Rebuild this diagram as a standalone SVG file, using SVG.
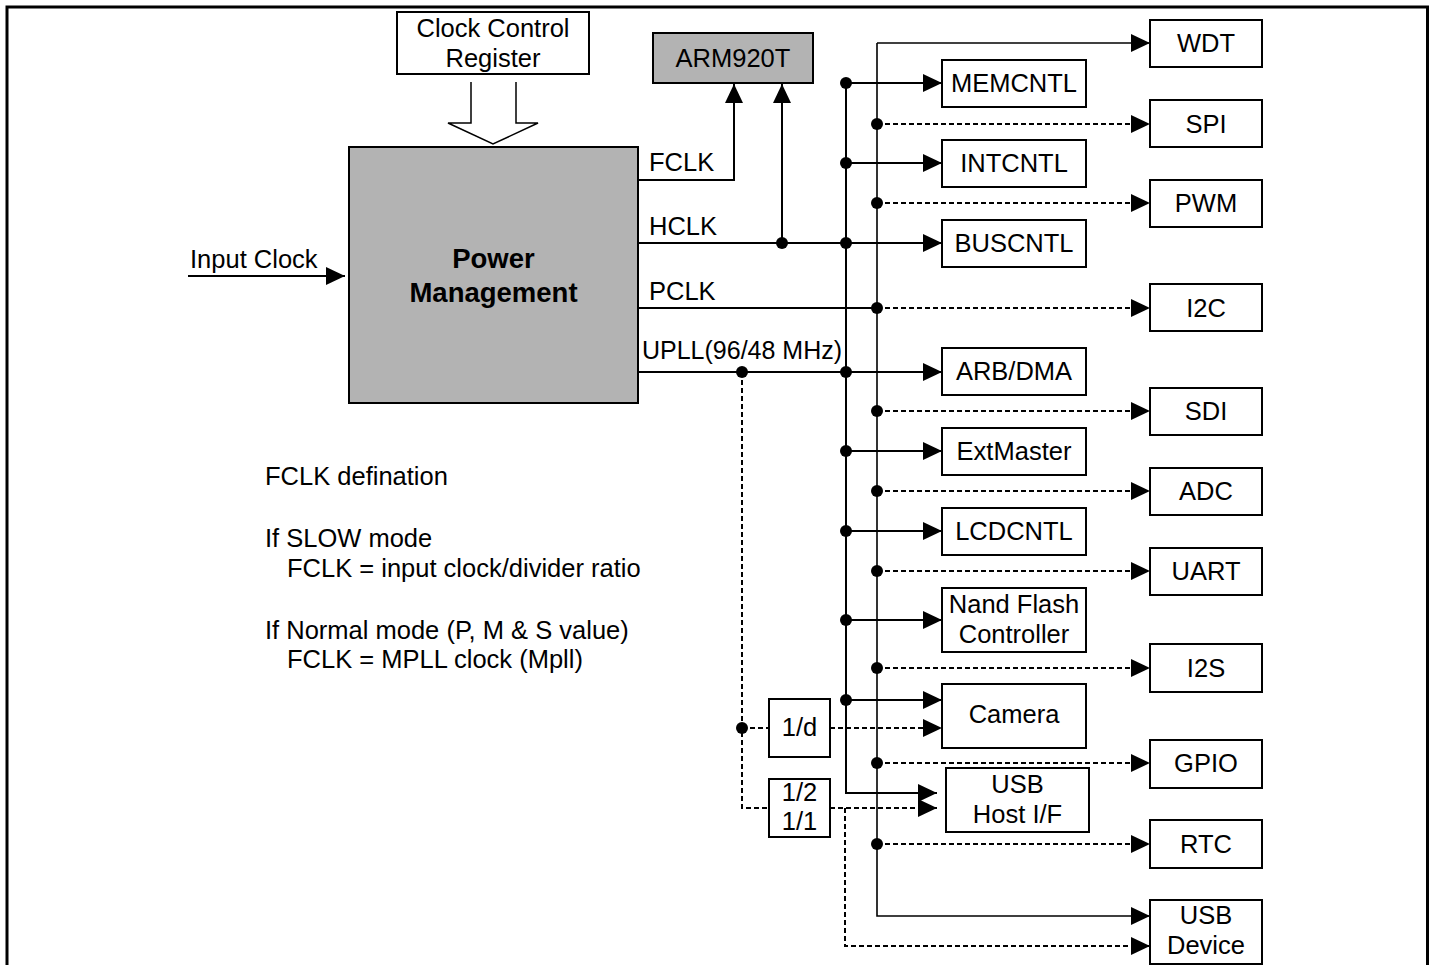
<svg xmlns="http://www.w3.org/2000/svg" width="1433" height="965" viewBox="0 0 1433 965">
<defs>
<style>
text{font-family:"Liberation Sans",Arial,sans-serif;font-size:25.5px;fill:#000}
.c{text-anchor:middle}
.b{font-weight:bold;font-size:27.5px}
.box{fill:#fff;stroke:#000;stroke-width:2}
.g{fill:#b3b3b3;stroke:#000;stroke-width:2}
.s{fill:none;stroke:#000;stroke-width:2}
.t{fill:none;stroke:#000;stroke-width:1.6}
.d{fill:none;stroke:#000;stroke-width:2;stroke-dasharray:5 3}
.a{marker-end:url(#ah)}
.dot{fill:#000}
</style>
<marker id="ah" markerUnits="userSpaceOnUse" markerWidth="20" markerHeight="18" refX="19" refY="9" orient="auto"><path d="M0,0 L19,9 L0,18 Z" fill="#000"/></marker>
</defs>
<rect width="1433" height="965" fill="#fff"/>
<path d="M7,965 V7 H1427.5 V965" fill="none" stroke="#000" stroke-width="3"/>

<g id="connectors">
<path class="s a" d="M188,276 H345"/>
<path class="s a" d="M638,180 H734 V84"/>
<path class="s a" d="M782,243 V84"/>
<path class="s a" d="M638,243 H942"/>
<path class="s" d="M638,308 H877"/>
<path class="s a" d="M638,372 H942"/>
<path class="s a" d="M846,83 V793 H937"/>
<path class="s a" d="M846,83 H942"/>
<path class="s a" d="M846,163 H942"/>
<path class="s a" d="M846,451 H942"/>
<path class="s a" d="M846,531 H942"/>
<path class="s a" d="M846,620 H942"/>
<path class="s a" d="M846,700 H942"/>
<path class="t a" d="M877,43 H1150"/>
<path class="t a" d="M877,43 V916 H1150"/>
<path class="d a" d="M877,124 H1150"/>
<path class="d a" d="M877,203 H1150"/>
<path class="d a" d="M877,308 H1150"/>
<path class="d a" d="M877,411 H1150"/>
<path class="d a" d="M877,491 H1150"/>
<path class="d a" d="M877,571 H1150"/>
<path class="d a" d="M877,668 H1150"/>
<path class="d a" d="M877,763 H1150"/>
<path class="d a" d="M877,844 H1150"/>
<path class="d" d="M742,372 V808 H769"/>
<path class="d" d="M742,728 H769"/>
<path class="d a" d="M830,728 H942"/>
<path class="d a" d="M830,808 H937"/>
<path class="d a" d="M845,808 V946 H1150"/>
<path d="M471,82 V123 H448 L493,144 L538,123 H516 V82" fill="#fff" stroke="#000" stroke-width="1.5"/>
<g class="dot">
<circle cx="782" cy="243" r="6"/>
<circle cx="846" cy="83" r="6"/>
<circle cx="846" cy="163" r="6"/>
<circle cx="846" cy="243" r="6"/>
<circle cx="846" cy="372" r="6"/>
<circle cx="846" cy="451" r="6"/>
<circle cx="846" cy="531" r="6"/>
<circle cx="846" cy="620" r="6"/>
<circle cx="846" cy="700" r="6"/>
<circle cx="877" cy="124" r="6"/>
<circle cx="877" cy="203" r="6"/>
<circle cx="877" cy="308" r="6"/>
<circle cx="877" cy="411" r="6"/>
<circle cx="877" cy="491" r="6"/>
<circle cx="877" cy="571" r="6"/>
<circle cx="877" cy="668" r="6"/>
<circle cx="877" cy="763" r="6"/>
<circle cx="877" cy="844" r="6"/>
<circle cx="742" cy="372" r="6"/>
<circle cx="742" cy="728" r="6"/>
</g>
<text x="649" y="171">FCLK</text>
<text x="649" y="235">HCLK</text>
<text x="649" y="300">PCLK</text>
<text x="642" y="359" textLength="200" lengthAdjust="spacingAndGlyphs">UPLL(96/48 MHz)</text>
<text x="190" y="268">Input Clock</text>
</g>

<g id="ccr"><rect class="box" x="397" y="12" width="192" height="62"/><text class="c" x="493" y="37">Clock Control</text><text class="c" x="493" y="67">Register</text></g>
<g id="arm"><rect class="g" x="653" y="33" width="160" height="50"/><text class="c" x="733" y="67">ARM920T</text></g>
<g id="pm"><rect class="g" x="349" y="147" width="289" height="256"/><text class="c b" x="493.5" y="268">Power</text><text class="c b" x="493.5" y="302">Management</text></g>

<g id="memcntl"><rect class="box" x="942" y="60" width="144" height="47"/><text class="c" x="1014" y="92">MEMCNTL</text></g>
<g id="intcntl"><rect class="box" x="942" y="140" width="144" height="47"/><text class="c" x="1014" y="172">INTCNTL</text></g>
<g id="buscntl"><rect class="box" x="942" y="220" width="144" height="47"/><text class="c" x="1014" y="252">BUSCNTL</text></g>
<g id="arbdma"><rect class="box" x="942" y="348" width="144" height="47"/><text class="c" x="1014" y="380">ARB/DMA</text></g>
<g id="extmaster"><rect class="box" x="942" y="428" width="144" height="47"/><text class="c" x="1014" y="460">ExtMaster</text></g>
<g id="lcdcntl"><rect class="box" x="942" y="508" width="144" height="47"/><text class="c" x="1014" y="540">LCDCNTL</text></g>
<g id="nand"><rect class="box" x="942" y="588" width="144" height="64"/><text class="c" x="1014" y="613">Nand Flash</text><text class="c" x="1014" y="643">Controller</text></g>
<g id="camera"><rect class="box" x="942" y="684" width="144" height="64"/><text class="c" x="1014" y="723">Camera</text></g>
<g id="usbhost"><rect class="box" x="946" y="768" width="143" height="64"/><text class="c" x="1017.5" y="793">USB</text><text class="c" x="1017.5" y="823">Host I/F</text></g>

<g id="wdt"><rect class="box" x="1150" y="20" width="112" height="47"/><text class="c" x="1206" y="52">WDT</text></g>
<g id="spi"><rect class="box" x="1150" y="100" width="112" height="47"/><text class="c" x="1206" y="133">SPI</text></g>
<g id="pwm"><rect class="box" x="1150" y="180" width="112" height="47"/><text class="c" x="1206" y="212">PWM</text></g>
<g id="i2c"><rect class="box" x="1150" y="284" width="112" height="47"/><text class="c" x="1206" y="317">I2C</text></g>
<g id="sdi"><rect class="box" x="1150" y="388" width="112" height="47"/><text class="c" x="1206" y="420">SDI</text></g>
<g id="adc"><rect class="box" x="1150" y="468" width="112" height="47"/><text class="c" x="1206" y="500">ADC</text></g>
<g id="uart"><rect class="box" x="1150" y="548" width="112" height="47"/><text class="c" x="1206" y="580">UART</text></g>
<g id="i2s"><rect class="box" x="1150" y="644" width="112" height="48"/><text class="c" x="1206" y="677">I2S</text></g>
<g id="gpio"><rect class="box" x="1150" y="740" width="112" height="48"/><text class="c" x="1206" y="772">GPIO</text></g>
<g id="rtc"><rect class="box" x="1150" y="820" width="112" height="48"/><text class="c" x="1206" y="853">RTC</text></g>
<g id="usbdev"><rect class="box" x="1150" y="900" width="112" height="64"/><text class="c" x="1206" y="924">USB</text><text class="c" x="1206" y="954">Device</text></g>

<g id="div_d"><rect class="box" x="769" y="699" width="61" height="58"/><text class="c" x="799.5" y="736">1/d</text></g>
<g id="div_2"><rect class="box" x="769" y="779" width="61" height="58"/><text class="c" x="799.5" y="801">1/2</text><text class="c" x="799.5" y="830">1/1</text></g>

<g id="notes">
<text x="265" y="485">FCLK defination</text>
<text x="265" y="547">If SLOW mode</text>
<text x="287" y="577">FCLK = input clock/divider ratio</text>
<text x="265" y="639">If Normal mode (P, M &amp; S value)</text>
<text x="287" y="668">FCLK = MPLL clock (Mpll)</text>
</g>
</svg>
